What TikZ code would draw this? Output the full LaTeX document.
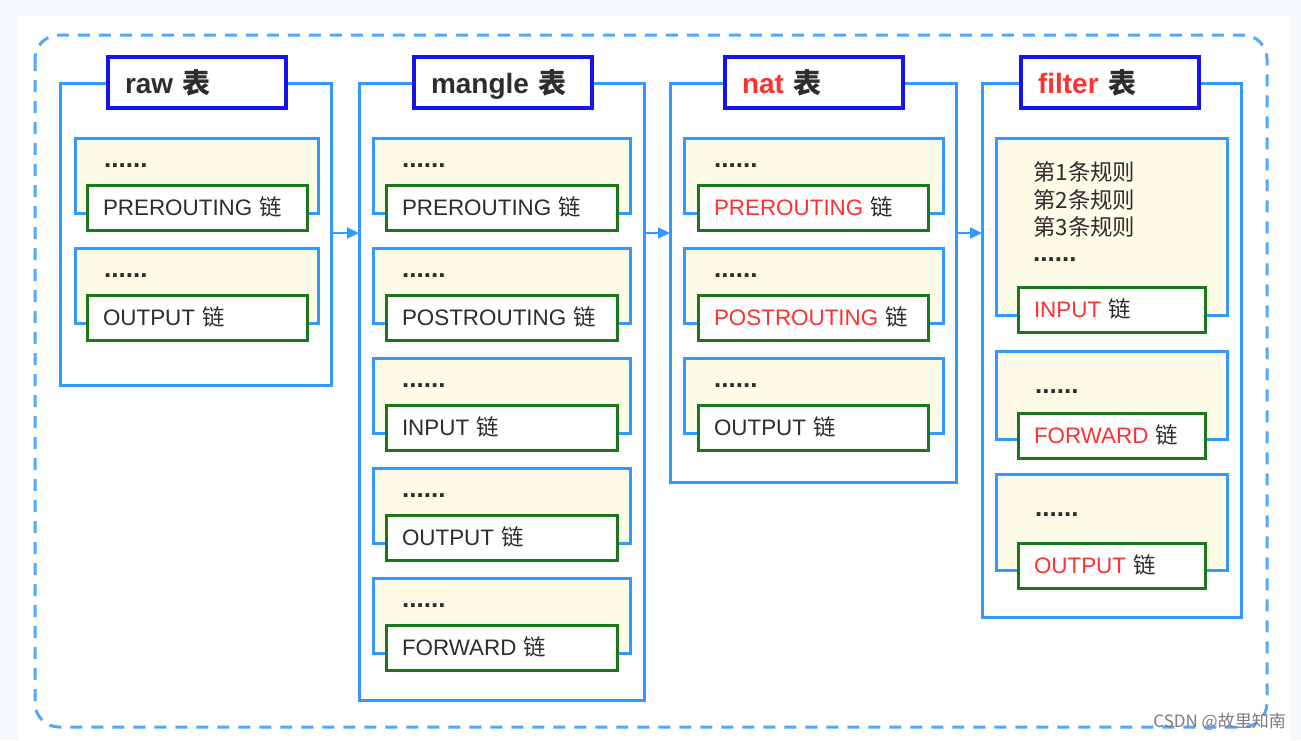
\documentclass[tikz,border=0pt]{standalone}
\usepackage{fontspec}
\setmainfont{Liberation Sans}
\newfontfamily\cjk{Noto Sans CJK SC}
\usetikzlibrary{arrows.meta,positioning}

\definecolor{lineblue}{RGB}{51,153,255}
\definecolor{titleblue}{RGB}{20,20,235}
\definecolor{chaingreen}{RGB}{28,118,28}
\definecolor{groupfill}{RGB}{254,252,231}
\definecolor{hotred}{RGB}{255,48,48}
\definecolor{inkgray}{RGB}{45,45,45}
\definecolor{pagetint}{RGB}{244,249,254}
\definecolor{markgray}{RGB}{125,125,125}

\newcommand{\lian}{{\cjk 链}}
\newcommand{\biao}{{\cjk 表}}

\tikzset{
  tablebox/.style={draw=lineblue, line width=3pt, anchor=north west, outer sep=0pt, inner sep=0pt},
  titlebox/.style={draw=titleblue, fill=white, line width=3.5pt, anchor=north west, outer sep=0pt,
    minimum height=51pt, inner xsep=17pt, text width=144pt, text height=21pt, text depth=0pt,
    align=left, font=\fontsize{28}{34}\selectfont\bfseries, text=inkgray},
  groupbox/.style={draw=lineblue, fill=groupfill, line width=3pt, anchor=north west, outer sep=0pt, inner sep=0pt},
  chainbox/.style={draw=chaingreen, fill=white, line width=3pt, anchor=north west, outer sep=0pt,
    minimum height=45pt, inner xsep=16pt, text width=#1, text height=16pt, text depth=0pt,
    align=left, font=\fontsize{22.4}{27}\selectfont, text=inkgray},
  elide/.style={anchor=base west, inner sep=0pt, font=\fontsize{26}{30}\selectfont\bfseries, text=inkgray},
  rule/.style={anchor=base west, inner sep=0pt, font=\cjk\fontsize{22.4}{27}\selectfont, text=inkgray},
  flow/.style={draw=lineblue, line width=2pt, -{Triangle[length=12pt,width=11pt]}},
}

\begin{document}
\begin{tikzpicture}[x=1pt,y=-1pt]
\useasboundingbox (0,0) rectangle (1301,740);
\fill[pagetint] (0,0) rectangle (1301,740);
\fill[white] (18,16) rectangle (1290,740);

% dashed frame
\draw[lineblue!85, line width=3pt, dash pattern=on 12pt off 9pt, rounded corners=24pt] (35,35) rectangle (1267,727);

% raw
\node[tablebox, minimum width=271pt, minimum height=302pt] (raw) at (60,83) {};
\node[titlebox] (raw-title) at (108,57) {raw \biao};
\foreach \ch [count=\k from 0] in {PREROUTING,OUTPUT} {
  \node[groupbox, minimum width=243pt, minimum height=75pt] (raw-g\k) at (75,{138+110*\k}) {};
  \node[elide] (raw-d\k) at (104,{167+110*\k}) {......};
  \node[chainbox=188pt] (raw-c\k) at (87,{185+110*\k}) {\ch\ \lian};
}

% mangle
\node[tablebox, minimum width=285pt, minimum height=617pt] (mangle) at (359,83) {};
\node[titlebox] (mangle-title) at (414,57) {mangle \biao};
\foreach \ch [count=\k from 0] in {PREROUTING,POSTROUTING,INPUT,OUTPUT,FORWARD} {
  \node[groupbox, minimum width=257pt, minimum height=75pt] (mangle-g\k) at (373,{138+110*\k}) {};
  \node[elide] (mangle-d\k) at (402,{167+110*\k}) {......};
  \node[chainbox=199pt] (mangle-c\k) at (386,{185+110*\k}) {\ch\ \lian};
}

% nat
\node[tablebox, minimum width=286pt, minimum height=399pt] (nat) at (670,83) {};
\node[titlebox] (nat-title) at (725,57) {\textcolor{hotred}{nat} \biao};
\foreach \ch/\tone [count=\k from 0] in {PREROUTING/hotred,POSTROUTING/hotred,OUTPUT/inkgray} {
  \node[groupbox, minimum width=259pt, minimum height=75pt] (nat-g\k) at (684,{138+110*\k}) {};
  \node[elide] (nat-d\k) at (714,{167+110*\k}) {......};
  \node[chainbox=198pt] (nat-c\k) at (698,{185+110*\k}) {\textcolor{\tone}{\ch}\ \lian};
}

% filter
\node[tablebox, minimum width=259pt, minimum height=534pt] (filter) at (982,83) {};
\node[titlebox] (filter-title) at (1021,57) {\textcolor{hotred}{filter} \biao};
\node[groupbox, minimum width=231pt, minimum height=177pt] (filter-g0) at (996,138) {};
\node[groupbox, minimum width=231pt, minimum height=88pt] (filter-g1) at (996,351) {};
\node[groupbox, minimum width=231pt, minimum height=96pt] (filter-g2) at (996,474) {};
\foreach \n [count=\k from 0] in {1,2,3}
  \node[rule] (filter-r\n) at (1033,{180.5+27.5*\k}) {第\n 条规则};
\node[elide] (filter-d0) at (1033,261.5) {......};
\node[elide] (filter-d1) at (1035,393.5) {......};
\node[elide] (filter-d2) at (1035,516.5) {......};
\node[chainbox=155pt] (filter-c0) at (1018,287) {\textcolor{hotred}{INPUT}\ \lian};
\node[chainbox=155pt] (filter-c1) at (1018,413) {\textcolor{hotred}{FORWARD}\ \lian};
\node[chainbox=155pt] (filter-c2) at (1018,543) {\textcolor{hotred}{OUTPUT}\ \lian};

% table order
\draw[flow] ([yshift=-150pt]raw.north east) -- ([yshift=-150pt]mangle.north west);
\draw[flow] ([yshift=-150pt]mangle.north east) -- ([yshift=-150pt]nat.north west);
\draw[flow] ([yshift=-150pt]nat.north east) -- ([yshift=-150pt]filter.north west);

\node[anchor=base east, inner sep=0pt, font=\cjk\fontsize{17}{20}\selectfont, text=markgray] (mark) at (1286,727) {CSDN @故里知南};
\end{tikzpicture}
\end{document}
